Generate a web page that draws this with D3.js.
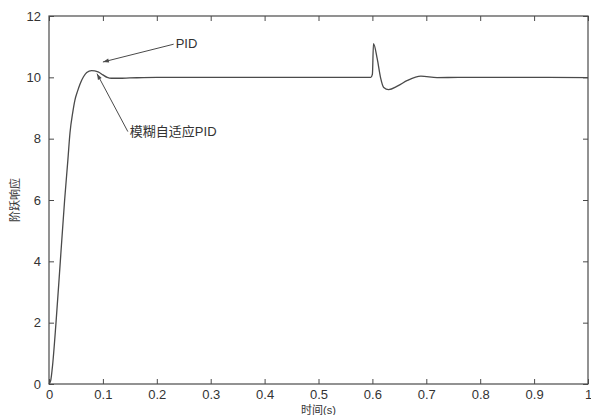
<!DOCTYPE html>
<html>
<head>
<meta charset="utf-8">
<script src="https://cdn.jsdelivr.net/npm/d3@7"></script>
<style>
  body { margin: 0; background: #fff; }
  text { font-family: "Liberation Sans", Arial, "Noto Sans CJK SC", sans-serif; }
</style>
</head>
<body>
<div id="chart"></div>
<script>
// step response
const timeS = [0, 0.003, 0.006, 0.013, 0.021, 0.029, 0.035, 0.039, 0.044, 0.048, 0.053, 0.058, 0.064, 0.07, 0.079, 0.091, 0.1, 0.108, 0.116, 0.13, 0.15, 0.2,
               0.3, 0.4, 0.5, 0.597, 0.6, 0.602, 0.609, 0.615, 0.621, 0.63, 0.647, 0.665, 0.69, 0.72, 0.76, 0.8, 0.9, 1.0];
const response = [0, 0.1, 0.5, 2.0, 4.0, 6.0, 7.3, 8.2, 8.85, 9.25, 9.55, 9.8, 10.02, 10.16, 10.22, 10.18, 10.08, 10.0, 9.97, 9.97, 9.98, 10.0,
                  10.0, 10.0, 10.0, 10.0, 10.1, 11.1, 10.6, 10.0, 9.67, 9.6, 9.72, 9.9, 10.04, 9.99, 10.0, 10.0, 10.0, 9.99];
const xTicks = [0, 0.1, 0.2, 0.3, 0.4, 0.5, 0.6, 0.7, 0.8, 0.9, 1];
const yTicks = [0, 2, 4, 6, 8, 10, 12];
const xLabel = "时间(s)";
const yLabel = "阶跃响应";
const notes = [
  { text: "PID", tx: 0.235, ty: 10.95, ax: 0.1, ay: 10.5 },
  { text: "模糊自适应PID", tx: 0.15, ty: 8.1, ax: 0.089, ay: 10.12 }
];

const svgWidth = 591, svgHeight = 415;
const margin = { top: 16, right: 3, bottom: 31, left: 49 };
const width = svgWidth - margin.left - margin.right;
const height = svgHeight - margin.top - margin.bottom;
const ink = "#4a4a4a";

const svg = d3.select("#chart").append("svg")
    .attr("width", svgWidth)
    .attr("height", svgHeight)
  .append("g")
    .attr("transform", `translate(${margin.left},${margin.top})`);

const xScale = d3.scaleLinear().domain([0, 1]).range([0, width]);
const yScale = d3.scaleLinear().domain([0, 12]).range([height, 0]);

svg.append("defs").append("marker")
    .attr("id", "arrow")
    .attr("viewBox", "0 0 10 10")
    .attr("refX", 10).attr("refY", 5)
    .attr("markerWidth", 9).attr("markerHeight", 6)
    .attr("orient", "auto")
  .append("path")
    .attr("d", "M0,1.5 L10,5 L0,8.5 Z")
    .attr("fill", ink);

// axes, MATLAB style: ticks inward on all four sides
function styleAxis(g) {
  g.select(".domain").remove();
  g.selectAll(".tick line").attr("stroke", ink).attr("stroke-width", 1);
  g.selectAll(".tick text").attr("fill", "#333").style("font-size", "13px");
}

svg.append("g")
    .attr("transform", `translate(0,${height})`)
    .call(d3.axisBottom(xScale).tickValues(xTicks).tickSize(-5).tickPadding(6).tickFormat(d3.format("")))
    .call(styleAxis);
svg.append("g")
    .call(d3.axisTop(xScale).tickValues(xTicks).tickSize(-5).tickFormat(""))
    .call(styleAxis);
svg.append("g")
    .call(d3.axisLeft(yScale).tickValues(yTicks).tickSize(-5).tickPadding(8))
    .call(styleAxis);
svg.append("g")
    .attr("transform", `translate(${width},0)`)
    .call(d3.axisRight(yScale).tickValues(yTicks).tickSize(-5).tickFormat(""))
    .call(styleAxis);

svg.append("rect")
    .attr("width", width).attr("height", height)
    .attr("fill", "none").attr("stroke", ink).attr("stroke-width", 1.2);

// the curve
const line = d3.line()
    .x((d, i) => xScale(timeS[i]))
    .y(d => yScale(d))
    .curve(d3.curveMonotoneX);

svg.append("path")
    .datum(response)
    .attr("d", line)
    .attr("fill", "none")
    .attr("stroke", ink)
    .attr("stroke-width", 1.3);

// annotations
notes.forEach(n => {
  svg.append("line")
      .attr("x1", xScale(n.tx) - 2).attr("y1", yScale(n.ty) - 4)
      .attr("x2", xScale(n.ax)).attr("y2", yScale(n.ay))
      .attr("stroke", ink).attr("stroke-width", 1)
      .attr("marker-end", "url(#arrow)");
  svg.append("text")
      .attr("x", xScale(n.tx)).attr("y", yScale(n.ty))
      .attr("fill", "#333")
      .style("font-size", "13px")
      .text(n.text);
});

svg.append("text")
    .attr("x", width / 2)
    .attr("y", height + 30)
    .attr("text-anchor", "middle")
    .attr("fill", "#333")
    .style("font-size", "11px")
    .text(xLabel);

svg.append("text")
    .attr("transform", `translate(-30,${height / 2}) rotate(-90)`)
    .attr("text-anchor", "middle")
    .attr("fill", "#333")
    .style("font-size", "11px")
    .text(yLabel);
</script>
</body>
</html>
